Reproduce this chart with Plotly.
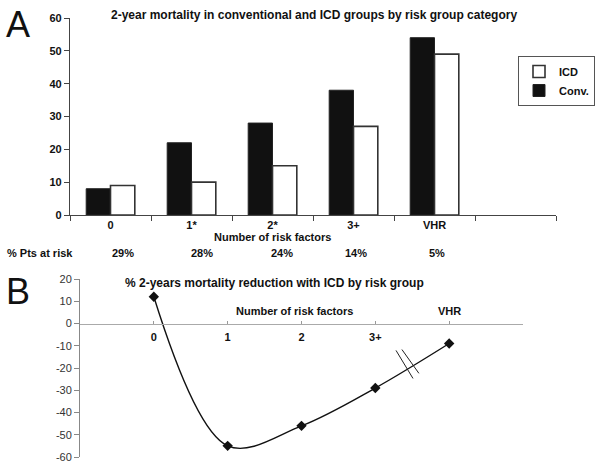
import plotly.graph_objects as go

# ---- data ----
categories = ["0", "1*", "2*", "3+", "VHR", " "]
conv_mortality = [8, 22, 28, 38, 54, None]
icd_mortality = [9, 10, 15, 27, 49, None]
pts_at_risk = ["29%", "28%", "24%", "14%", "5%"]

reduction_x = [0, 1, 2, 3, 4]
reduction_labels = ["0", "1", "2", "3+", "VHR"]
reduction_vals = [12, -55, -46, -29, -9]
reduction_ticks = [20, 10, 0, -10, -20, -30, -40, -50, -60]

W, H = 611, 462
FONT = "Liberation Sans, Arial, sans-serif"
DARK = "#111111"


def px(x):
    return x / W


def py(y):
    return 1 - y / H


fig = go.Figure()

fig.add_trace(go.Bar(
    x=categories, y=conv_mortality, name="Conv.",
    marker=dict(color="#111111", line=dict(color="#222222", width=1)),
    xaxis="x", yaxis="y",
))
fig.add_trace(go.Bar(
    x=categories, y=icd_mortality, name="ICD",
    marker=dict(color="white", line=dict(color="#333333", width=1.6)),
    xaxis="x", yaxis="y",
))

fig.add_trace(go.Scatter(
    x=reduction_x, y=reduction_vals, mode="lines+markers",
    line=dict(color="#111111", width=1.4, shape="spline", smoothing=1.0),
    marker=dict(symbol="diamond", size=8, color="#111111"),
    showlegend=False, xaxis="x2", yaxis="y2",
))

bold11 = dict(family=FONT, size=11, color=DARK, weight="bold")

fig.update_layout(
    width=W, height=H,
    margin=dict(l=0, r=0, t=0, b=0, autoexpand=False),
    paper_bgcolor="white", plot_bgcolor="white",
    font=dict(family=FONT, size=11, color=DARK),
    barmode="group", bargap=0.4, bargroupgap=0,
    showlegend=True,
    legend=dict(
        x=px(518), y=py(56), xanchor="left", yanchor="top",
        bordercolor="#555555", borderwidth=1, bgcolor="white",
        font=bold11, traceorder="reversed",
        itemwidth=30, tracegroupgap=0, entrywidth=80,
    ),
    xaxis=dict(
        domain=[px(70), px(556)], anchor="y", automargin=False,
        type="category", categoryorder="array", categoryarray=categories,
        tickson="boundaries", ticks="outside", ticklen=5, tickcolor="#444444",
        showline=True, linecolor="#444444", linewidth=1.2,
        showgrid=False, tickfont=bold11, fixedrange=True,
    ),
    yaxis=dict(
        domain=[py(215), py(18)], anchor="x", automargin=False,
        range=[0, 60], dtick=10, ticks="outside", ticklen=5, tickcolor="#444444",
        showline=True, linecolor="#444444", linewidth=1.2,
        showgrid=False, zeroline=False, tickfont=bold11,
        ticklabeloverflow="allow",
    ),
    xaxis2=dict(
        domain=[px(80), px(523)], anchor="free", automargin=False,
        position=(0 - (-60)) / 80 * (py(279) - py(457)) + py(457),
        range=[-1, 5], tickvals=reduction_x[:4], ticktext=reduction_labels[:4],
        ticks="inside", ticklen=3, tickcolor="#999999",
        minor=dict(ticks="inside", dtick=1, tick0=0, ticklen=3, tickcolor="#999999"),
        showline=True, linecolor="#aaaaaa", linewidth=1,
        showgrid=False, zeroline=False, tickfont=bold11, ticklabelstandoff=3,
        ticklabeloverflow="allow",
    ),
    yaxis2=dict(
        domain=[py(457), py(279)], anchor="x2", automargin=False,
        range=[-60, 20], tickvals=reduction_ticks,
        ticktext=[str(v) for v in reduction_ticks],
        ticks="outside", ticklen=5, tickcolor="#888888",
        showline=True, linecolor="#888888", linewidth=1,
        showgrid=False, zeroline=False,
        tickfont=dict(family=FONT, size=11, color="#333333"),
        ticklabeloverflow="allow",
    ),
)

ann = []
ann.append(dict(text="A", x=px(4), y=py(24), xref="paper", yref="paper",
                xanchor="left", yanchor="middle", showarrow=False,
                font=dict(family=FONT, size=36, color=DARK)))
ann.append(dict(text="B", x=px(4), y=py(291), xref="paper", yref="paper",
                xanchor="left", yanchor="middle", showarrow=False,
                font=dict(family=FONT, size=36, color=DARK)))
ann.append(dict(text="<b>2-year mortality in conventional and ICD groups by risk group category</b>",
                x=px(314), y=py(15), xref="paper", yref="paper",
                xanchor="center", yanchor="middle", showarrow=False,
                font=dict(family=FONT, size=12, color=DARK)))
ann.append(dict(text="<b>Number of risk factors</b>", x=px(272), y=py(237),
                xref="paper", yref="paper", xanchor="center", yanchor="middle",
                showarrow=False, font=dict(family=FONT, size=11, color=DARK)))
ann.append(dict(text="<b>% Pts at risk</b>", x=px(5), y=py(253),
                xref="paper", yref="paper", xanchor="left", yanchor="middle",
                showarrow=False, font=dict(family=FONT, size=11, color=DARK)))
shifts = [12, 10, 9, 2, 2]
for cat, lab, s in zip(categories, pts_at_risk, shifts):
    ann.append(dict(text=f"<b>{lab}</b>", x=cat, y=py(253), xref="x", yref="paper",
                    xanchor="center", yanchor="middle", xshift=s, showarrow=False,
                    font=dict(family=FONT, size=11, color=DARK)))
ann.append(dict(text="<b>% 2-years mortality reduction with ICD by risk group</b>",
                x=px(274), y=py(283), xref="paper", yref="paper",
                xanchor="center", yanchor="middle", showarrow=False,
                font=dict(family=FONT, size=12, color=DARK)))
ann.append(dict(text="<b>Number of risk factors</b>", x=1.9, y=5.8, xref="x2", yref="y2",
                xanchor="center", yanchor="middle", showarrow=False,
                font=dict(family=FONT, size=11, color=DARK)))
ann.append(dict(text=f"<b>{reduction_labels[4]}</b>", x=reduction_x[4], y=5.8,
                xref="x2", yref="y2", xanchor="center", yanchor="middle",
                showarrow=False, font=dict(family=FONT, size=11, color=DARK)))
fig.update_layout(annotations=ann)

# axis-break marks on the segment between 3+ and VHR
breaks = [((3.28, -12.1), (3.51, -24.7)), ((3.36, -11.7), (3.59, -22.4))]
for (x0, y0), (x1, y1) in breaks:
    fig.add_shape(type="line", x0=x0, y0=y0, x1=x1, y1=y1, xref="x2", yref="y2",
                  line=dict(color="#222222", width=1))

fig.write_html(
    "out.html",
    config={"displayModeBar": False},
    post_script="document.body.style.margin='0';document.body.style.overflow='hidden';",
)
